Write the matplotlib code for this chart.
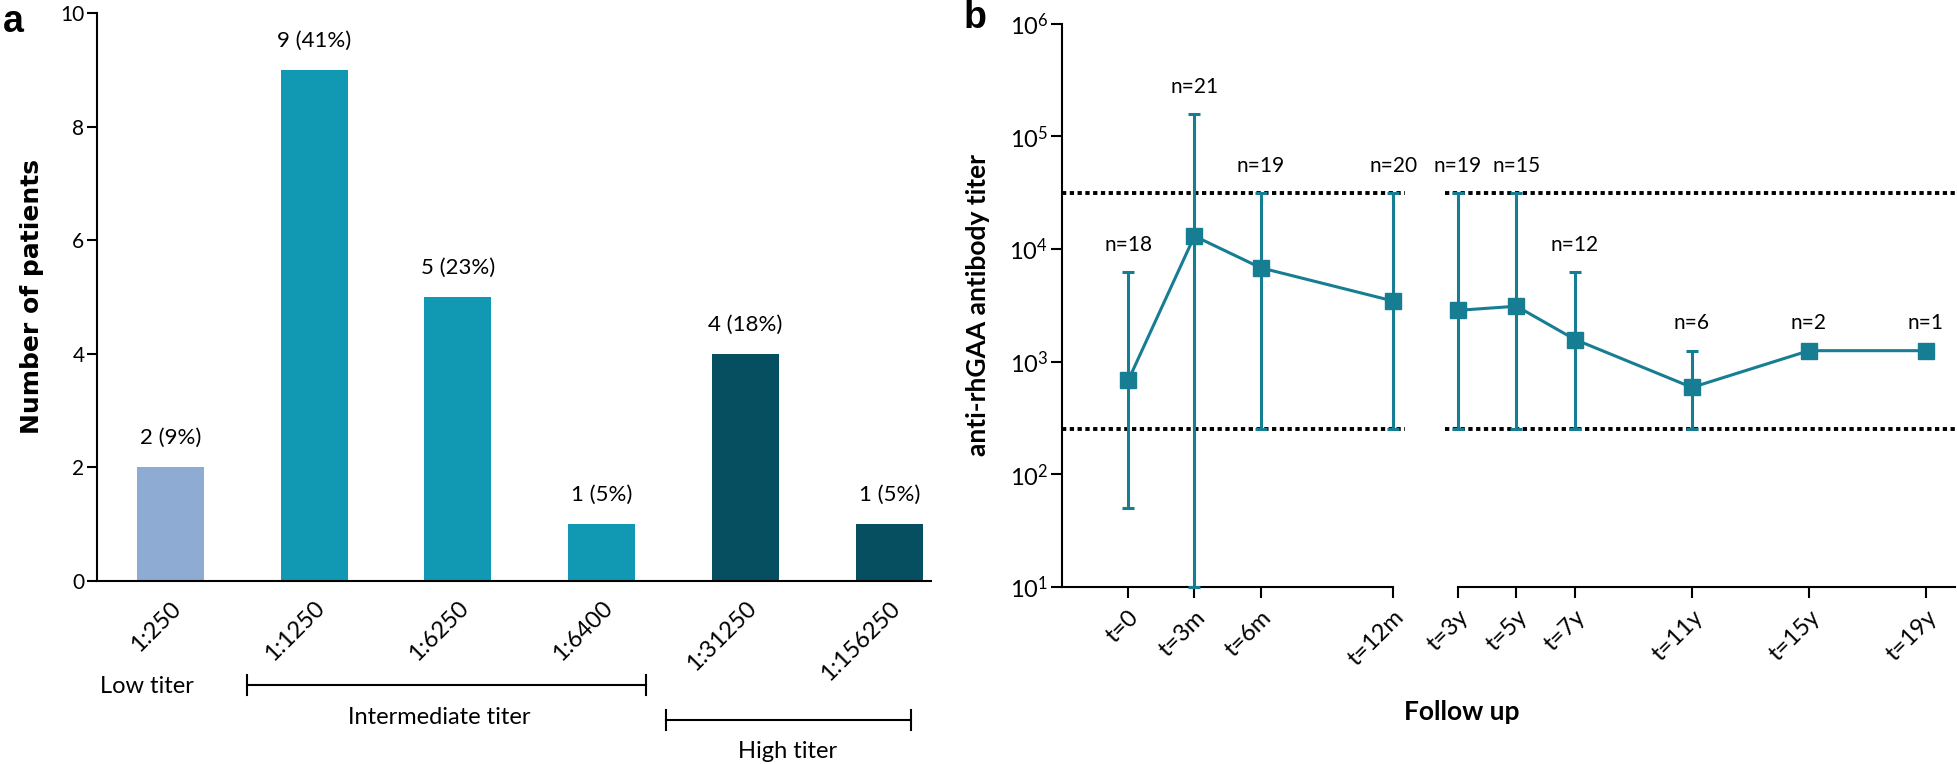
import numpy as np
import matplotlib
matplotlib.use("Agg")
import matplotlib.pyplot as plt

plt.rcParams['font.family'] = ['Lato', 'DejaVu Sans']
plt.rcParams['mathtext.default'] = 'regular'

# panel a data
titers = ['1:250', '1:1250', '1:6250', '1:6400', '1:31250', '1:156250']
counts = [2, 9, 5, 1, 4, 1]
pcts = [9, 41, 23, 5, 18, 5]
bar_cols = ['#8dabd3', '#1198b2', '#1198b2', '#1198b2', '#054f60', '#054f60']

# panel b data, first year in months, later in years
months = [0, 3, 6, 12]
month_lbl = ['t=0', 't=3m', 't=6m', 't=12m']
gm_m = [680, 13000, 6800, 3450]
lo_m = [50, 10, 250, 250]
hi_m = [6250, 156250, 31250, 31250]
n_m = [18, 21, 19, 20]

years = [3, 5, 7, 11, 15, 19]
year_lbl = ['t=3y', 't=5y', 't=7y', 't=11y', 't=15y', 't=19y']
gm_y = [2850, 3100, 1570, 590, 1250, 1250]
lo_y = [250, 250, 250, 250, 1250, 1250]
hi_y = [31250, 31250, 6250, 1250, 1250, 1250]
n_y = [19, 15, 12, 6, 2, 1]

cut_lo = 250
cut_hi = 31250

W, H = 1958, 764
fig = plt.figure(figsize=(W/100, H/100), dpi=100)

def rect(l, t, r, b):
    return [l/W, 1-b/H, (r-l)/W, (b-t)/H]

# ---------------- panel a ----------------
ax = fig.add_axes(rect(97, 13, 931, 581))
x = np.arange(len(titers))
ax.bar(x, counts, width=0.466, color=bar_cols)
for xi, c, p in zip(x, counts, pcts):
    ax.annotate(f'{c} ({p}%)', (xi, c), xytext=(0, 21), textcoords='offset points',
                ha='center', va='center', fontsize=16)
ax.set_xlim(-0.51, 5.29)
ax.set_ylim(0, 10)
ax.set_yticks([0, 2, 4, 6, 8, 10])
ax.set_xticks(x)
ax.set_xticklabels(titers, rotation=45, ha='right', va='top', rotation_mode='anchor', fontsize=17)
ax.tick_params(axis='x', length=0, pad=12)
ax.tick_params(axis='y', length=7, width=1.5, labelsize=15, pad=2)
for s in ['top', 'right']:
    ax.spines[s].set_visible(False)
for s in ['left', 'bottom']:
    ax.spines[s].set_linewidth(1.5)
ax.set_ylabel('Number of patients', family='DejaVu Sans', fontweight='bold', fontsize=18, labelpad=12)

tr = ax.get_xaxis_transform()
def bracket(x0, x1, y):
    kw = dict(color='black', lw=1.5, transform=tr, clip_on=False)
    ax.plot([x0, x1], [y, y], **kw)
    ax.plot([x0, x0], [y-0.018, y+0.018], **kw)
    ax.plot([x1, x1], [y-0.018, y+0.018], **kw)

ax.text(-0.16, -0.185, 'Low titer', transform=tr, ha='center', va='center', fontsize=17)
bracket(0.53, 3.31, -0.183)
ax.text(1.87, -0.24, 'Intermediate titer', transform=tr, ha='center', va='center', fontsize=17)
bracket(3.45, 5.15, -0.245)
ax.text(4.29, -0.30, 'High titer', transform=tr, ha='center', va='center', fontsize=17)

fig.text(13/W, 1-22/H, 'a', family='Liberation Sans', fontweight='bold', fontsize=27, ha='center', va='center')
fig.text(975/W, 1-18/H, 'b', family='Liberation Sans', fontweight='bold', fontsize=27, ha='center', va='center')

# ---------------- panel b ----------------
teal = '#167d93'
ax1 = fig.add_axes(rect(1062, 23.5, 1405, 587))
ax2 = fig.add_axes(rect(1445, 23.5, 1955, 587))

def draw(a, xs, gm, lo, hi, ns, labels):
    gm = np.array(gm, float)
    err = [gm - np.array(lo), np.array(hi) - gm]
    a.errorbar(xs, gm, yerr=err, color=teal, lw=2.2, elinewidth=2.2, capsize=4.5,
               capthick=2.2, marker='s', ms=11, zorder=3, clip_on=False)
    a.axhline(cut_hi, color='black', lw=2.8, ls=(0, (1.1, 0.9)), zorder=2)
    a.axhline(cut_lo, color='black', lw=2.8, ls=(0, (1.1, 0.9)), zorder=2)
    for xi, h, n in zip(xs, hi, ns):
        a.text(xi, h*1.75, f'n={n}', ha='center', va='center', fontsize=15)
    a.set_yscale('log')
    a.set_ylim(10, 1e6)
    a.set_xticks(xs)
    a.set_xticklabels(labels, rotation=45, ha='right', va='top', rotation_mode='anchor', fontsize=17)
    a.tick_params(axis='x', length=8, width=1.5, pad=6)
    a.spines['top'].set_visible(False)
    a.spines['right'].set_visible(False)
    a.spines['bottom'].set_linewidth(1.5)
    a.spines['left'].set_linewidth(1.5)

draw(ax1, months, gm_m, lo_m, hi_m, n_m, month_lbl)
draw(ax2, years, gm_y, lo_y, hi_y, n_y, year_lbl)

ax1.set_xlim(-3, 12.54)
ax1.spines['bottom'].set_bounds(-3, 12)
ax1.set_yticks([10**k for k in range(1, 7)])
ax1.set_yticklabels([r'$10^{%d}$' % k for k in range(1, 7)])
ax1.yaxis.set_minor_locator(matplotlib.ticker.NullLocator())
ax1.tick_params(axis='y', length=8, width=1.5, labelsize=17, pad=2)
ax1.set_ylabel('anti-rhGAA antibody titer', fontweight='bold', fontsize=19, labelpad=14)

ax2.set_xlim(3 - 13/29.25, 3 + 497/29.25)
ax2.spines['left'].set_visible(False)
ax2.yaxis.set_visible(False)
ax2.spines['bottom'].set_bounds(3, 3 + 497/29.25)
ax2.tick_params(axis='y', which='both', length=0)
ax2.yaxis.set_minor_locator(matplotlib.ticker.NullLocator())

fig.text(1462/W, 1-712/H, 'Follow up', fontweight='bold', fontsize=19, ha='center', va='center')

fig.savefig('out.png', dpi=100)
